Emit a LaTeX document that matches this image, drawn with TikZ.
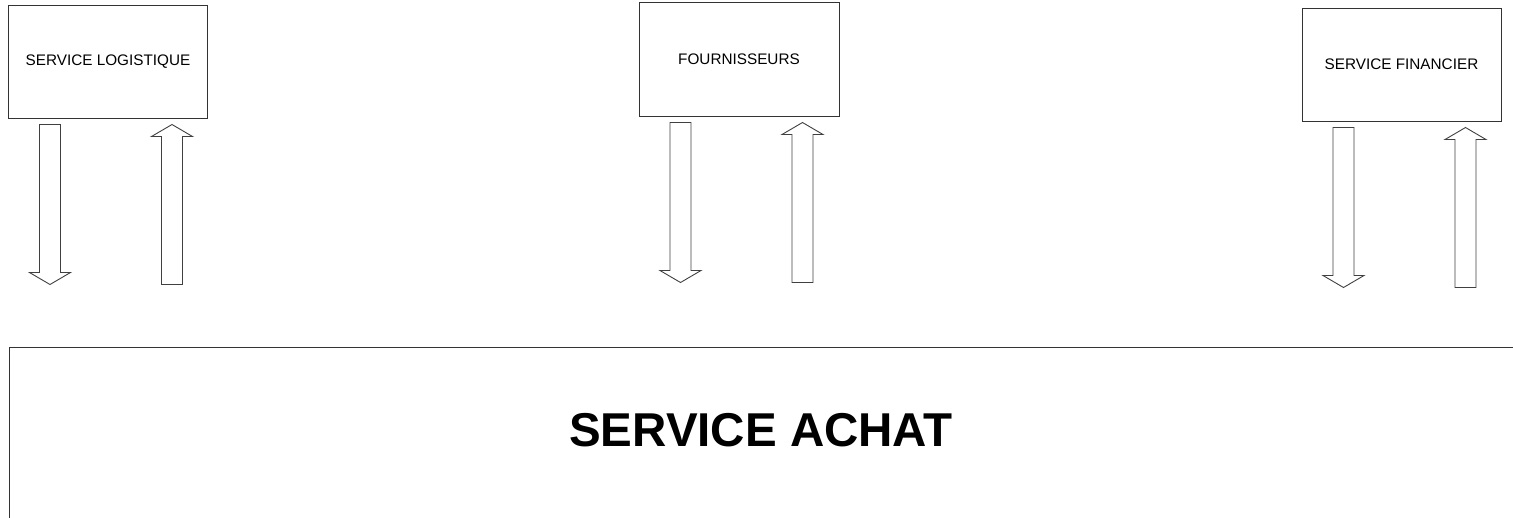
\documentclass[tikz,border=0pt]{standalone}
\usepackage{fontspec}
\setmainfont{Liberation Sans}
\usetikzlibrary{positioning, calc}

\tikzset{
  servbox/.style={draw=black!80, line width=1pt, minimum width=199pt, minimum height=113pt, inner sep=0pt, font=\fontsize{15.3}{18}\selectfont},
  blockarrow/.style={draw=black!75, line width=0.9pt, line join=miter},
  bigtitle/.style={font=\fontsize{47.5}{57}\selectfont\bfseries}
}

\begin{document}
\begin{tikzpicture}[x=1pt, y=-1pt]
  \useasboundingbox (0,0) rectangle (1513,517);
  \clip (0,0) rectangle (1513,517);
  % services
  \node[servbox] (logis) at (108,61.5) {SERVICE LOGISTIQUE};
  \node[servbox, minimum width=200pt, minimum height=114pt] (fourn) at (739,59) {FOURNISSEURS};
  \node[servbox] (financ) at (1401.5,64.5) {SERVICE FINANCIER};
  % block arrows under each box
  \foreach \b in {logis, fourn, financ} {
    \draw[blockarrow] ($(\b.south west)+(31.5,6)$) -- ++(21,0) -- ++(0,148) -- ++(10,0) -- ++(-20.5,12) -- ++(-20.5,-12) -- ++(10,0) -- cycle;
    \draw[blockarrow] ($(\b.south west)+(153.5,166)$) -- ++(21,0) -- ++(0,-148) -- ++(10,0) -- ++(-20.5,-12) -- ++(-20.5,12) -- ++(10,0) -- cycle;
  }
  % service achat (runs past the page)
  \node[draw=black!80, line width=1pt, anchor=north west, minimum width=1560pt, minimum height=220pt] (achat) at (9,347) {};
  \node[bigtitle] (achattxt) at (761,430) {SERVICE ACHAT};
\end{tikzpicture}
\end{document}
